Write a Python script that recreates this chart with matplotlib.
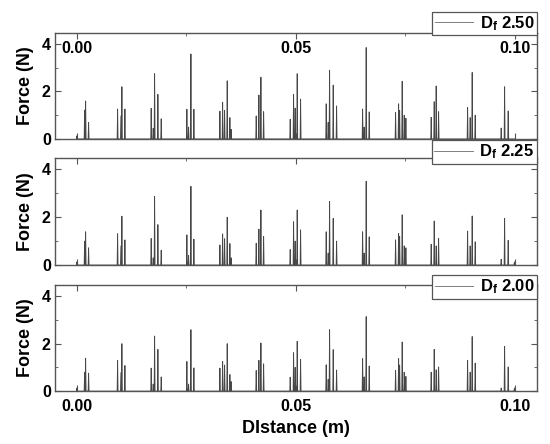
import matplotlib
matplotlib.use("Agg")
import matplotlib.pyplot as plt
import numpy as np
from matplotlib.ticker import MultipleLocator

# spike positions (m), shared by the three runs
spike_x = [0.0000,
           0.00176, 0.00199, 0.00267,
           0.00929, 0.01005, 0.01027, 0.01096,
           0.01696, 0.01742, 0.01774, 0.01849, 0.01925,
           0.02511, 0.02550, 0.02603, 0.02671,
           0.03265, 0.03327, 0.03372, 0.03432, 0.03493, 0.03523,
           0.04094, 0.04155, 0.04201, 0.04263,
           0.04870, 0.04947, 0.04984, 0.05030, 0.05107,
           0.05692, 0.05737, 0.05769, 0.05852, 0.05929,
           0.06523, 0.06559, 0.06605, 0.06674,
           0.07276, 0.07345, 0.07368, 0.07427, 0.07473, 0.07511,
           0.08089, 0.08158, 0.08203, 0.08258,
           0.08920, 0.08979, 0.09025, 0.09094,
           0.09687, 0.09765, 0.09847, 0.09990]

force_250 = [0.13,
             1.22, 1.60, 0.69,
             1.26, 0.97, 2.20, 1.26,
             1.29, 0.45, 2.75, 1.88, 0.85,
             1.25, 0.50, 3.58, 1.25,
             1.17, 1.55, 1.20, 2.45, 0.90, 0.40,
             0.97, 1.85, 2.60, 1.15,
             0.83, 1.88, 1.30, 2.75, 1.68,
             1.48, 0.70, 2.90, 2.27, 1.39,
             1.26, 0.50, 3.85, 1.14,
             1.11, 1.48, 1.20, 2.43, 1.00, 0.87,
             0.91, 1.57, 2.23, 1.15,
             1.33, 0.90, 2.80, 1.00,
             0.46, 2.20, 1.18, 0.00]

force_225 = [0.13,
             1.00, 1.39, 0.72,
             1.31, 0.80, 2.04, 1.05,
             1.11, 0.30, 2.87, 1.69, 0.62,
             1.26, 0.40, 3.29, 1.08,
             0.84, 1.30, 1.10, 2.00, 0.90, 0.30,
             0.91, 1.50, 2.30, 1.19,
             0.65, 1.81, 1.00, 2.30, 1.47,
             1.39, 0.50, 2.66, 1.95, 1.00,
             1.39, 0.50, 3.50, 1.18,
             1.05, 1.32, 1.20, 2.10, 0.80, 0.72,
             0.87, 1.84, 0.80, 1.11,
             1.42, 0.80, 2.05, 0.97,
             0.24, 1.95, 1.03, 0.13]

force_200 = [0.13,
             0.80, 1.39, 0.76,
             1.29, 0.78, 2.00, 1.08,
             0.97, 0.30, 2.32, 1.76, 0.60,
             1.25, 0.30, 2.59, 0.98,
             0.97, 1.25, 1.10, 2.00, 0.70, 0.40,
             0.87, 1.30, 2.03, 1.15,
             0.59, 1.62, 1.00, 2.10, 1.34,
             1.11, 0.50, 2.59, 1.75, 0.89,
             1.37, 0.60, 3.14, 1.06,
             0.87, 1.37, 1.10, 2.07, 0.80, 0.62,
             0.80, 1.76, 0.90, 1.02,
             1.30, 0.80, 2.30, 1.18,
             0.13, 1.88, 1.02, 0.13]

labels = ["2.50", "2.25", "2.00"]

plt.rcParams['font.family'] = ['Liberation Sans', 'DejaVu Sans']
plt.rcParams['font.weight'] = 'bold'
plt.rcParams['mathtext.fontset'] = 'custom'
plt.rcParams['mathtext.rm'] = 'Liberation Sans:bold'
plt.rcParams['mathtext.bf'] = 'Liberation Sans:bold'
plt.rcParams['mathtext.it'] = 'Liberation Sans:bold'


def spike_trace(xs, hs, w=0.0001):
    px, py = [0.0], [0.0]
    for x, h in zip(xs, hs):
        px += [x - w, x, x + w]
        py += [0.0, h, 0.0]
    px.append(0.1)
    py.append(0.0)
    return np.array(px), np.array(py)


fig = plt.figure(figsize=(5.5, 4.44), dpi=100)
rects = [[0.1, 0.687, 0.876, 0.239],
         [0.1, 0.403, 0.876, 0.241],
         [0.1, 0.119, 0.876, 0.239]]
leg_y = [0.947, 0.658, 0.354]
edge = '#555555'

for i, (data, lab) in enumerate(zip([force_250, force_225, force_200], labels)):
    ax = fig.add_axes(rects[i])
    px, py = spike_trace(spike_x, data)
    ax.plot(px, py, color='#474747', lw=0.65, label=r"D$_\mathbf{f}$ " + lab)
    ax.set_xlim(-0.005, 0.105)
    ax.set_ylim(0, 4.47)
    ax.xaxis.set_major_locator(MultipleLocator(0.05))
    ax.xaxis.set_minor_locator(MultipleLocator(0.025))
    ax.yaxis.set_major_locator(MultipleLocator(2))
    ax.yaxis.set_minor_locator(MultipleLocator(1))
    ax.tick_params(which='both', direction='in', top=True, right=True,
                   color=edge, labelsize=11.5)
    ax.tick_params(which='major', length=4)
    ax.tick_params(which='minor', length=2.5)
    ax.tick_params(axis='y', pad=3)
    for s in ax.spines.values():
        s.set_color(edge)
        s.set_linewidth(1.0)
    ax.set_ylabel("Force (N)", fontsize=13, fontweight='bold', labelpad=6)
    ax.xaxis.set_major_formatter(matplotlib.ticker.FormatStrFormatter('%.2f'))
    if i == 0:
        ax.tick_params(axis='x', labelbottom=False, labeltop=True, pad=-17)
    elif i == 1:
        ax.tick_params(axis='x', labelbottom=False)
    else:
        ax.tick_params(axis='x', pad=6)
        ax.set_xlabel("DIstance (m)", fontsize=13, fontweight='bold', labelpad=4)
    leg = ax.legend(loc='center right', bbox_to_anchor=(0.976, leg_y[i]),
                    bbox_transform=fig.transFigure, borderaxespad=0,
                    fancybox=False, framealpha=1, fontsize=12,
                    handlelength=2.3, handletextpad=0.4, borderpad=0.15)
    leg.get_frame().set_edgecolor(edge)
    leg.get_frame().set_linewidth(0.9)
    leg.get_lines()[0].set_color('#777777')
    leg.set_zorder(10)

fig.savefig("out.png", dpi=100)
